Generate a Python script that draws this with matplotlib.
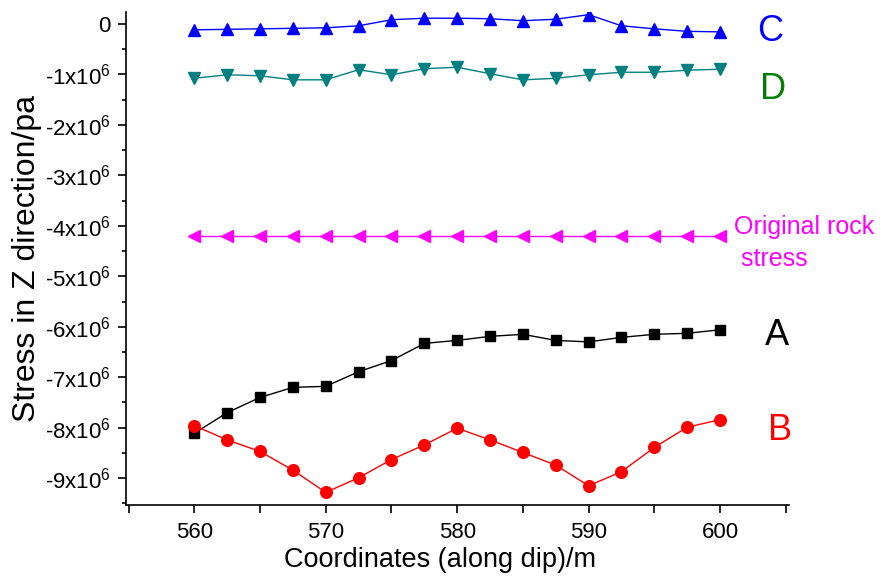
import matplotlib
matplotlib.use("Agg")
import matplotlib.pyplot as plt
from matplotlib.ticker import MultipleLocator, FuncFormatter

plt.rcParams['font.family'] = ['Liberation Sans', 'DejaVu Sans']
plt.rcParams['mathtext.fontset'] = 'custom'
plt.rcParams['mathtext.rm'] = 'Liberation Sans'
plt.rcParams['mathtext.it'] = 'Liberation Sans:italic'
plt.rcParams['axes.unicode_minus'] = False

# coordinates along dip (m)
x = [560, 562.5, 565, 567.5, 570, 572.5, 575, 577.5, 580, 582.5,
     585, 587.5, 590, 592.5, 595, 597.5, 600]

# stress values, in units of 1e6 Pa
a_vals = [-8.11, -7.70, -7.40, -7.20, -7.18, -6.89, -6.67, -6.33, -6.27,
          -6.19, -6.15, -6.27, -6.30, -6.21, -6.15, -6.13, -6.06]
b_vals = [-7.96, -8.24, -8.47, -8.84, -9.28, -8.99, -8.63, -8.34, -8.01,
          -8.24, -8.49, -8.74, -9.15, -8.87, -8.39, -7.99, -7.84]
c_vals = [-0.12, -0.11, -0.10, -0.09, -0.08, -0.04, 0.08, 0.11, 0.11,
          0.10, 0.06, 0.09, 0.18, -0.04, -0.10, -0.15, -0.16]
d_vals = [-1.08, -1.01, -1.03, -1.11, -1.11, -0.91, -1.01, -0.89, -0.86,
          -0.99, -1.11, -1.08, -1.01, -0.96, -0.96, -0.92, -0.90]
orig_vals = [-4.20] * len(x)

scale = 1e6

fig = plt.figure(figsize=(8.8, 5.79), dpi=100)
ax = fig.add_axes([0.1432, 0.1278, 0.7534, 0.8512])

ax.plot(x, [v * scale for v in c_vals], color='#0000ff', marker='^', ms=9, lw=1)
ax.plot(x, [v * scale for v in d_vals], color='#008080', marker='v', ms=9, lw=1)
ax.plot(x, [v * scale for v in orig_vals], color='#ff00ff', marker='<', ms=9, lw=1)
ax.plot(x, [v * scale for v in a_vals], color='black', marker='s', ms=7.2, lw=1)
ax.plot(x, [v * scale for v in b_vals], color='#ff0000', marker='o', ms=8.4, lw=1)

ax.set_xlim(554.8, 605.25)
ax.set_ylim(-9.53e6, 0.23e6)

# curve labels
ax.text(603.8, -0.16e6, 'C', color='#0000ff', fontsize=26, ha='center', va='center', clip_on=False)
ax.text(604.0, -1.31e6, 'D', color='#008000', fontsize=26, ha='center', va='center', clip_on=False)
ax.text(601.1, -4.34e6, 'Original rock\n stress', color='#ff00ff', fontsize=18,
        ha='left', va='center', linespacing=1.4, clip_on=False)
ax.text(604.3, -6.18e6, 'A', color='black', fontsize=26, ha='center', va='center', clip_on=False)
ax.text(604.6, -8.06e6, 'B', color='#ff0000', fontsize=26, ha='center', va='center', clip_on=False)

# axes styling
for side in ['top', 'right']:
    ax.spines[side].set_visible(False)
for side in ['left', 'bottom']:
    ax.spines[side].set_linewidth(1.2)

ax.xaxis.set_major_locator(MultipleLocator(5))
ax.xaxis.set_major_formatter(FuncFormatter(lambda v, p: '%d' % v if round(v) % 10 == 0 else ''))
ax.yaxis.set_major_locator(MultipleLocator(1e6))
ax.yaxis.set_minor_locator(MultipleLocator(0.5e6))


def yfmt(v, p):
    n = int(round(v / 1e6))
    if n == 0:
        return '0'
    return '%dx10$^6$' % n


ax.yaxis.set_major_formatter(FuncFormatter(yfmt))
ax.tick_params(axis='both', which='major', direction='out', length=6, width=1.2, labelsize=16)
ax.tick_params(axis='x', which='major', pad=6)
ax.tick_params(axis='y', which='major', pad=5)
ax.tick_params(axis='y', which='minor', direction='out', length=3, width=1.2)

ax.set_xlabel('Coordinates (along dip)/m', fontsize=19.5)
ax.set_ylabel('Stress in Z direction/pa', fontsize=23)
ax.xaxis.set_label_coords(0.474, -0.086)
ax.yaxis.set_label_coords(-0.127, 0.5)

fig.savefig('out.png', dpi=100)
